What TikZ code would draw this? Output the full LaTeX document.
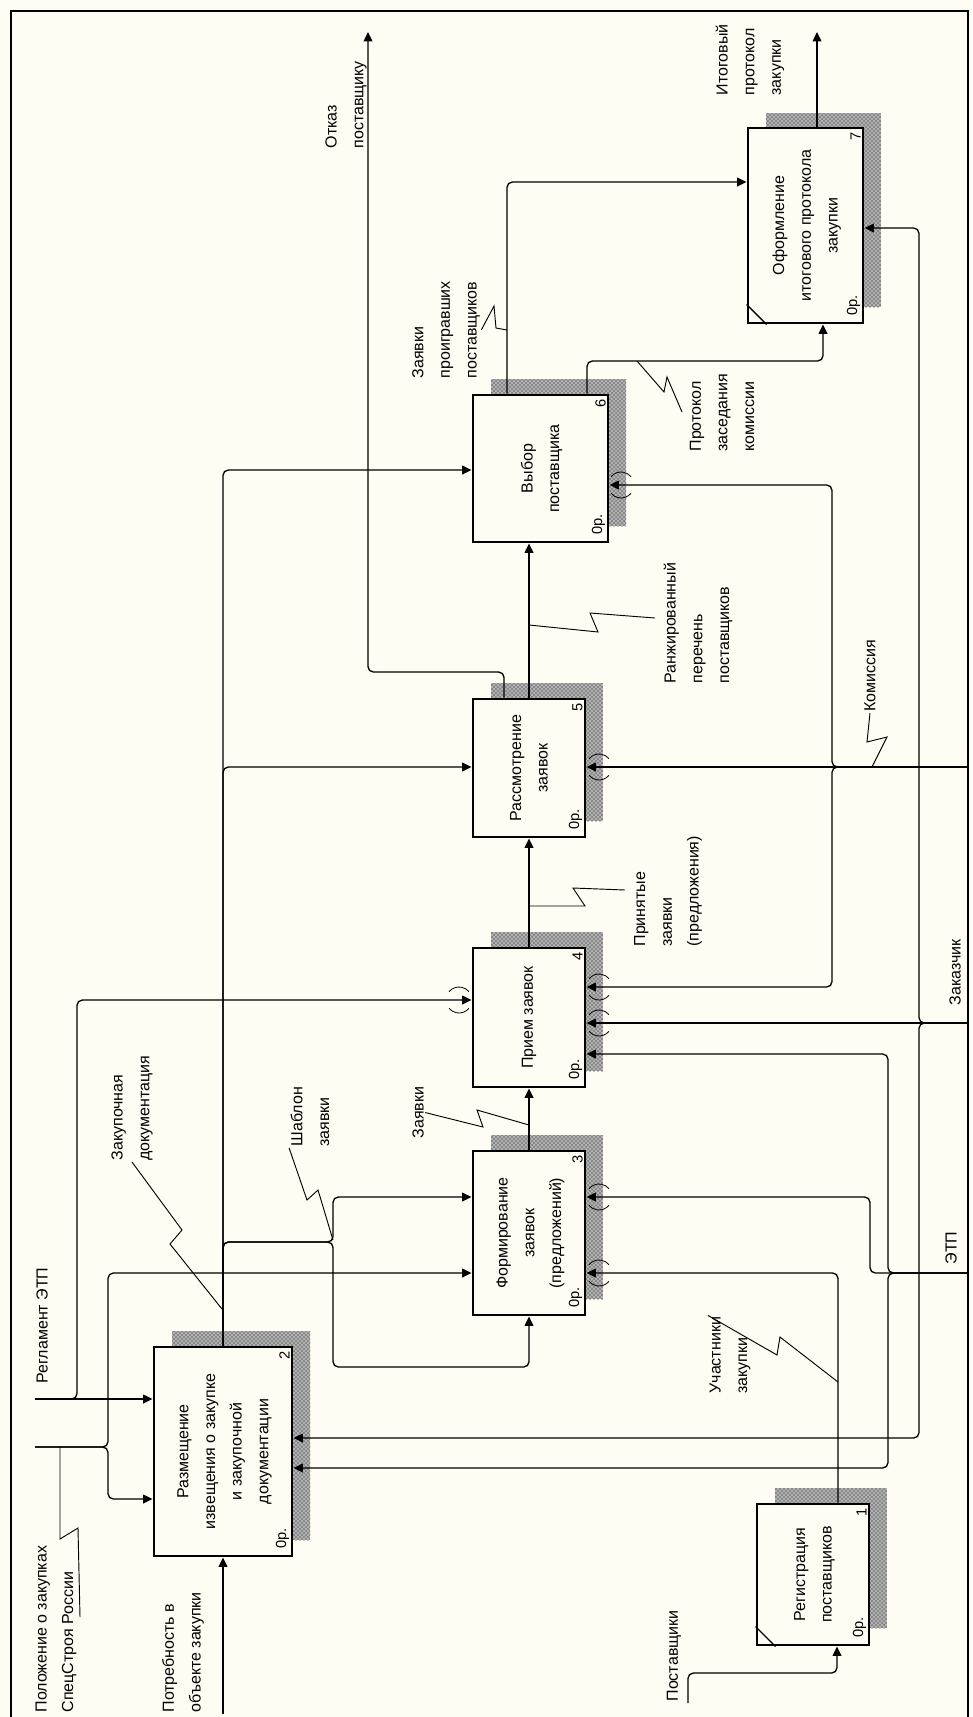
\documentclass[tikz,border=0pt]{standalone}
\usepackage{fontspec}
\setmainfont{Liberation Sans}
\usepackage{graphicx}
\usetikzlibrary{arrows.meta,patterns,calc}
\definecolor{paper}{RGB}{255,252,243}
\def\px{0.75pt}

\begin{document}
\begin{tikzpicture}[x=0.75pt, y=-0.75pt,
    arr/.style={line width=1pt, rounded corners=4pt, -{Triangle[length=7pt,width=6.5pt]}},
    lead/.style={line width=0.7pt},
    box/.style={draw, line width=2.2pt, fill=paper, inner sep=0pt,
      font=\fontsize{12}{20}\selectfont},
    hatch/.style={preaction={fill=black!30}, pattern=crosshatch dots, pattern color=black},
    lbl/.style={rotate=90, anchor=west, align=left, inner sep=1pt,
      font=\fontsize{12}{20}\selectfont},
    num/.style={rotate=90, inner sep=0pt, font=\fontsize{11}{12}\selectfont},
    tunnel/.pic={\draw[line width=0.6pt] (40:13) arc[start angle=40,end angle=140,radius=13]
      (220:13) arc[start angle=220,end angle=320,radius=13];}]

    \fill[paper] (0,0) rectangle (972,1717);
    \useasboundingbox (0,0) rectangle (972,1717);
    \draw[line width=1.2pt] (11,1717) -- (11,11) -- (968,11) -- (968,1717);

    % boxes with their shadows
    \fill[hatch] (775,1488) rectangle (887,1628);
    \node[box, minimum width=112*\px, minimum height=141*\px] (b1) at (813,1574.5)
      {\rotatebox{90}{\begin{tabular}{@{}c@{}}Регистрация\\поставщиков\end{tabular}}};
    \fill[hatch] (172,1331) rectangle (310,1540);
    \node[box, minimum width=138*\px, minimum height=209*\px] (b2) at (223,1451.5)
      {\rotatebox{90}{\begin{tabular}{@{}c@{}}Размещение\\извещения о закупке\\и закупочной\\документации\end{tabular}}};
    \fill[hatch] (491,1135) rectangle (603,1299);
    \node[box, minimum width=112*\px, minimum height=164*\px] (b3) at (529,1233)
      {\rotatebox{90}{\begin{tabular}{@{}c@{}}Формирование\\заявок\\(предложений)\end{tabular}}};
    \fill[hatch] (491,932) rectangle (603,1071);
    \node[box, minimum width=112*\px, minimum height=139*\px] (b4) at (529,1017.5)
      {\rotatebox{90}{Прием заявок}};
    \fill[hatch] (491,683) rectangle (603,821);
    \node[box, minimum width=112*\px, minimum height=138*\px] (b5) at (529,768)
      {\rotatebox{90}{\begin{tabular}{@{}c@{}}Рассмотрение\\заявок\end{tabular}}};
    \fill[hatch] (491,379) rectangle (626,526);
    \node[box, minimum width=135*\px, minimum height=147*\px] (b6) at (540.5,468.5)
      {\rotatebox{90}{\begin{tabular}{@{}c@{}}Выбор\\поставщика\end{tabular}}};
    \fill[hatch] (766,113) rectangle (881,307);
    \node[box, minimum width=115*\px, minimum height=195*\px] (b7) at (805.5,225.5)
      {\rotatebox{90}{\begin{tabular}{@{}c@{}}Оформление\\итогового протокола\\закупки\end{tabular}}};

    \foreach \b/\n in {b1/1,b2/2,b3/3,b4/4,b5/5,b6/6,b7/7} {
      \node[num] (\b n) at ($(\b.north east)+(-9,10)$) {\n};
      \node[num] (\b z) at ($(\b.south east)+(-11,-19)$) {0р.};
    }
    \draw[line width=1pt] ($(b1.south west)+(0,-20)$) -- ($(b1.south west)+(20,0)$);
    \draw[line width=1pt] ($(b7.south west)+(0,-20)$) -- ($(b7.south west)+(20,0)$);

    % free ends
    \coordinate (reg0) at (35,1399);
    \coordinate (pol0) at (35,1447);
    \coordinate (potr0) at (223,1714);
    \coordinate (post0) at (688,1703);
    \coordinate (kom0) at (968,767);
    \coordinate (zak0) at (968,1023);
    \coordinate (etp0) at (968,1273);
    \coordinate (otk1) at (368,32);
    \coordinate (itog1) at (817,32);

    % controls
    \draw[arr] (reg0) -- (reg0 -| b2.west);
    \draw[arr] (reg0) -- (77,1399) |- (b4.west |- 0,1000);
    \draw[arr] (pol0) -- (108,1447) |- (b3.west |- 0,1273);
    \draw[arr] (pol0) -- (108,1447) |- (b2.west |- 0,1499);
    \draw[arr] (b2.north) |- (b6.west |- 0,470);
    \draw[arr] (b2.north) |- (b5.west |- 0,767);
    \draw[arr] (b2.north) |- (333,1242) |- (b3.west |- 0,1197);
    \draw[arr] (b6.north -| 507,0) |- (b7.west |- 0,182);

    % inputs and outputs
    \draw[arr] (potr0) -- (b2.south);
    \draw[arr] (b2.north) |- (333,1242) |- (b3.south |- 0,1367) -- (b3.south);
    \draw[arr] (b3.north) -- (b4.south);
    \draw[arr] (b4.north) -- (b5.south);
    \draw[arr] (b5.north) -- (b5.north |- b6.south);
    \draw[arr] (b5.north -| 504,0) |- (otk1 |- 0,672) -- (otk1);
    \draw[arr] (b6.north -| 587,0) |- (823,361) -- (b7.south -| 823,0);
    \draw[arr] (b7.north -| itog1) -- (itog1);
    \draw[arr] (post0) |- (837,1673) -- (b1.south -| 837,0);

    % mechanisms
    \draw[arr] (kom0) -- (kom0 -| b5.east);
    \draw[arr] (kom0) -- (832,767) |- (b6.east |- 0,485);
    \draw[arr] (kom0) -- (832,767) |- (b4.east |- 0,987);
    \draw[arr] (zak0) -- (zak0 -| b4.east);
    \draw[arr] (zak0) -- (919,1023) |- (b7.east |- 0,228);
    \draw[arr] (zak0) -- (919,1023) |- (b2.east |- 0,1438);
    \draw[arr] (etp0) -- (888,1273) |- (b4.east |- 0,1054);
    \draw[arr] (etp0) -- (888,1273) |- (b2.east |- 0,1468);
    \draw[arr] (etp0) -- (870,1273) |- (b3.east |- 0,1197);
    \draw[arr] (b1.north -| 838,0) |- (b3.east |- 0,1273);

    \foreach \p in {{(459,1000)},{(599,1197)},{(599,1273)},{(599,987)},{(599,1023)},{(599,767)},{(621,485)}}
      \pic at \p {tunnel};

    % labels
    \node[lbl] (lotk) at (346,150) {Отказ\\поставщику};
    \node[lbl] (llos) at (446,380) {Заявки\\проигравших\\поставщиков};
    \node[lbl] (litog) at (750,97) {Итоговый\\протокол\\закупки};
    \node[lbl] (lprot) at (722,453) {Протокол\\заседания\\комиссии};
    \node[lbl] (lrank) at (698,685) {Ранжированный\\перечень\\поставщиков};
    \node[lbl] (lkom) at (870,713) {Комиссия};
    \node[lbl] (lprin) at (668,948) {Принятые\\заявки\\(предложения)};
    \node[lbl] (lzak) at (955,1007) {Заказчик};
    \node[lbl] (letp) at (951,1266) {ЭТП};
    \node[lbl] (lzay) at (418,1140) {Заявки};
    \node[lbl] (ltpl) at (310,1148) {Шаблон\\заявки};
    \node[lbl] (ldoc) at (132,1162) {Закупочная\\документация};
    \node[lbl] (lreg) at (42,1385) {Регламент ЭТП};
    \node[lbl] (lpol) at (56,1714) {Положение о закупках\\СпецСтроя России};
    \node[lbl] (lpotr) at (183,1714) {Потребность в\\объекте закупки};
    \node[lbl] (luch) at (730,1395) {Участники\\закупки};
    \node[lbl] (lpost) at (674,1703) {Поставщики};

    % label leaders
    \draw[lead] (ldoc.west) -- (182,1230) -- (170,1244) -- (222,1309);
    \draw[lead] (ltpl.north west) -- (307,1200) -- (318,1190) -- (333,1240);
    \draw[lead] (lzay.south) -- (483,1127) -- (477,1110) -- (529,1125);
    \draw[lead] (529,906) -- (585,906) -- (573,888) -- (625,890);
    \draw[lead] (529,625) -- (598,632) -- (590,613) -- (655,618);
    \draw[lead] (llos.south) -- (494,306) -- (496,328) -- (507,330);
    \draw[lead] (637,361) -- (664,392) -- (667,377) -- (682,412);
    \draw[lead] (lkom.west) -- (867,742) -- (887,737) -- (872,767);
    \draw[lead] (luch.north east) -- (777,1355) -- (780,1337) -- (838,1382);
    \draw[lead] (60,1447) -- (60,1539) -- (78,1528) -- (80,1617);
\end{tikzpicture}
\end{document}
